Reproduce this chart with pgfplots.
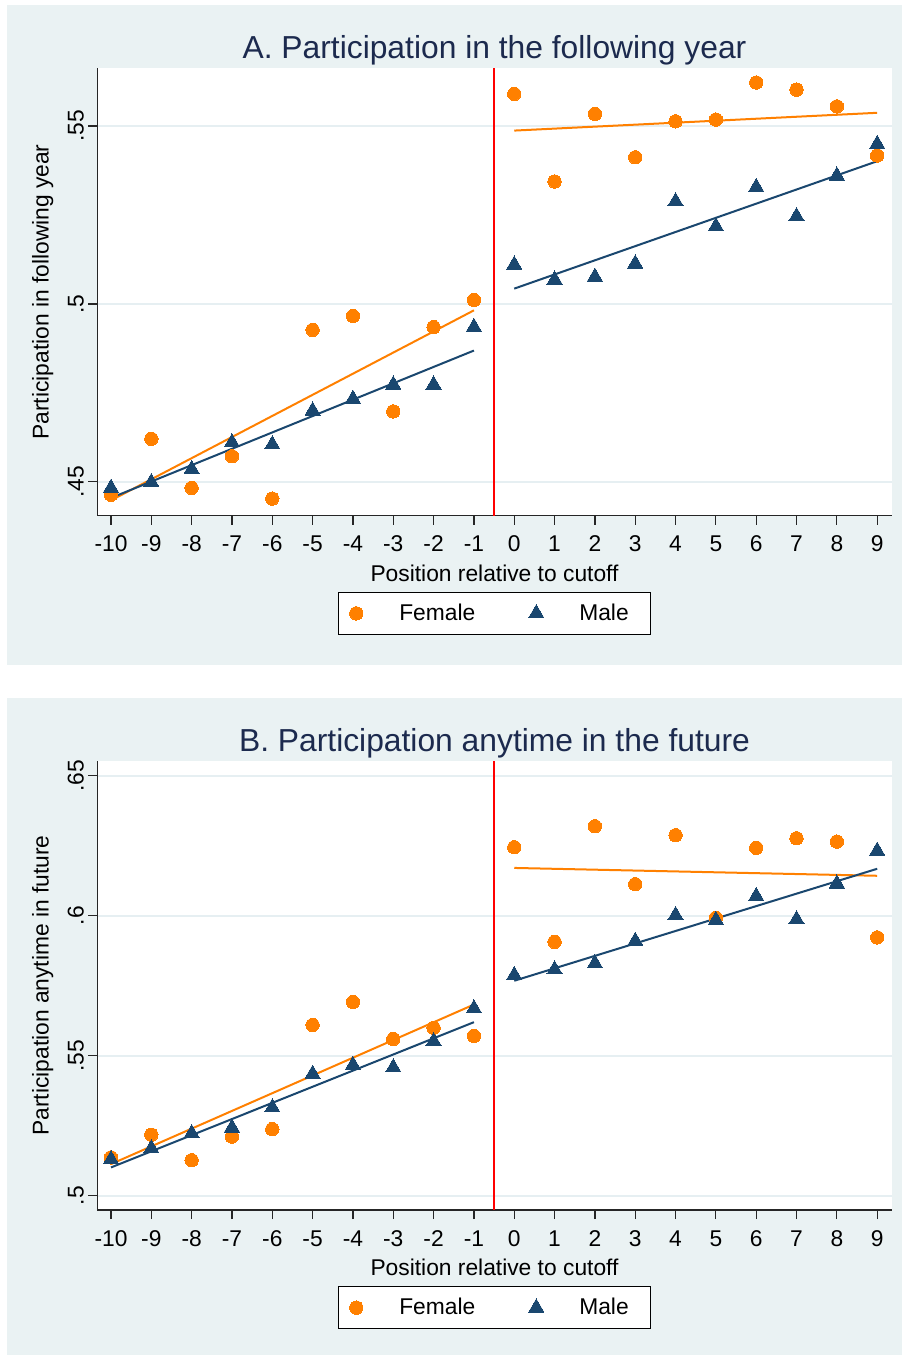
\documentclass[border=0pt]{standalone}
\usepackage{pgfplots}
\pgfplotsset{compat=1.18}
\usepackage{pgfplotstable}
\usepackage{fontspec}
\setmainfont{Liberation Sans}
\definecolor{stbg}{RGB}{234,242,243}
\definecolor{stgrid}{RGB}{230,239,242}
\definecolor{storange}{RGB}{255,128,0}
\definecolor{stnavy}{RGB}{26,71,111}
\definecolor{sttitle}{RGB}{28,42,78}

\pgfplotstableread{
x fem male
-10 0.4464 0.4483
-9 0.4621 0.4499
-8 0.4483 0.4536
-7 0.4572 0.4611
-6 0.4453 0.4605
-5 0.4927 0.4700
-4 0.4966 0.4733
-3 0.4698 0.4773
-2 0.4935 0.4773
-1 0.5011 0.4935
0 0.5590 0.5110
1 0.5344 0.5068
2 0.5534 0.5076
3 0.5412 0.5113
4 0.5513 0.5288
5 0.5518 0.5218
6 0.5622 0.5328
7 0.5602 0.5246
8 0.5555 0.5360
9 0.5417 0.5449
}\dataA

\pgfplotstableread{
x fem male
-10 0.5137 0.5130
-9 0.5218 0.5169
-8 0.5127 0.5223
-7 0.5211 0.5243
-6 0.5238 0.5315
-5 0.5610 0.5435
-4 0.5692 0.5467
-3 0.5560 0.5458
-2 0.5600 0.5552
-1 0.5571 0.5669
0 0.6245 0.5788
1 0.5907 0.5808
2 0.6320 0.5830
3 0.6113 0.5910
4 0.6288 0.6002
5 0.5993 0.5985
6 0.6243 0.6070
7 0.6277 0.5987
8 0.6265 0.6115
9 0.5923 0.6232
}\dataB

\def\lblfont{\fontsize{11.4}{13}\selectfont}

\pgfplotsset{
  stata/.style={
    scale only axis, width=397.2pt,
    xmin=-10.34, xmax=9.36,
    axis lines*=left,
    axis line style={-, line width=0.7pt, black!85},
    tick align=outside, major tick length=4.5pt,
    tick style={line width=0.6pt, black!85},
    xtick={-10,...,9},
    xticklabels={-10,-9,-8,-7,-6,-5,-4,-3,-2,-1,0,1,2,3,4,5,6,7,8,9},
    ymajorgrids, grid style={stgrid, line width=0.85pt},
    axis background/.style={fill=white},
    tick label style={font=\lblfont},
    label style={font=\lblfont},
    yticklabel style={rotate=90, anchor=south, inner ysep=2pt},
    xticklabel style={anchor=base, yshift=-13.6pt},
    title style={font=\fontsize{15.9}{18}\selectfont, color=sttitle, at={(0.5,1)}, anchor=base, yshift=-1.3pt},
    xlabel style={at={(axis description cs:0.5,0)}, anchor=base, yshift=-32.85pt},
    ylabel style={at={([xshift=-24.3pt]axis description cs:0,0.5)}, anchor=base, rotate=0},
    legend columns=2,
    legend cell align=left,
    legend style={at={(0.5,0)}, anchor=north, yshift=-38pt, draw=black, line width=0.5pt,
      fill=white, inner xsep=0pt, inner ysep=3.7pt, column sep=0pt,
      font=\lblfont, cells={anchor=west, inner sep=0pt}},
  },
  femsc/.style={only marks, mark=*, mark size=3.35pt, color=storange,
    mark options={fill=storange, draw=storange, line width=0pt},
    legend image code/.code={\path[draw=none,fill=none] (-9pt,-5pt) rectangle (19.5pt,5pt);
      \draw[##1] plot coordinates {(0pt,0pt)};}},
  malesc/.style={only marks, mark=triangle*, mark size=4.4pt, color=stnavy,
    mark options={fill=stnavy, draw=stnavy, line width=0pt},
    legend image code/.code={\path[draw=none,fill=none] (-28.5pt,-5pt) rectangle (19.5pt,5pt);
      \draw[##1] plot coordinates {(0pt,0pt)};}},
  femfit/.style={storange, line width=1pt, forget plot, no marks},
  malefit/.style={stnavy, line width=1pt, forget plot, no marks},
}

\begin{document}
\begin{tikzpicture}
\useasboundingbox (0,0) rectangle (451pt,-677.5pt);
\fill[stbg] (3.5pt,-2.5pt) rectangle (451pt,-332.35pt);
\fill[stbg] (3.5pt,-349pt) rectangle (451pt,-677.5pt);

\begin{axis}[stata, at={(48.65pt,-34.15pt)}, anchor=north west, height=223.7pt,
  ymin=0.4405, ymax=0.5662,
  ytick={0.45,0.5,0.55}, yticklabels={.45,.5,.55},
  title={A. Participation in the following year},
  xlabel={Position relative to cutoff},
  ylabel={Participation in following year}]
\addplot[femsc] table[x=x, y=fem] {\dataA};
\addlegendentry{Female}
\addplot[malesc] table[x=x, y=male] {\dataA};
\addlegendentry{Male\hspace*{9pt}}
\addplot[femfit] coordinates {(-10,0.4448) (-1,0.4982)};
\addplot[femfit] coordinates {(0,0.5487) (9,0.5537)};
\addplot[malefit] coordinates {(-10,0.4455) (-1,0.4869)};
\addplot[malefit] coordinates {(0,0.5043) (9,0.5401)};
\addplot[red, line width=1pt, forget plot] coordinates {(-0.5,0.4405) (-0.5,0.5662)};
\end{axis}

\begin{axis}[stata, at={(48.65pt,-380.5pt)}, anchor=north west, height=224.5pt,
  ymin=0.4949, ymax=0.6553,
  ytick={0.5,0.55,0.6,0.65}, yticklabels={.5,.55,.6,.65},
  title={B. Participation anytime in the future},
  xlabel={Position relative to cutoff},
  ylabel={Participation anytime in future}]
\addplot[femsc] table[x=x, y=fem] {\dataB};
\addlegendentry{Female}
\addplot[malesc] table[x=x, y=male] {\dataB};
\addlegendentry{Male\hspace*{9pt}}
\addplot[femfit] coordinates {(-10,0.5113) (-1,0.5683)};
\addplot[femfit] coordinates {(0,0.6171) (9,0.6143)};
\addplot[malefit] coordinates {(-10,0.5101) (-1,0.5620)};
\addplot[malefit] coordinates {(0,0.5768) (9,0.6168)};
\addplot[red, line width=1pt, forget plot] coordinates {(-0.5,0.4949) (-0.5,0.6553)};
\end{axis}
\end{tikzpicture}
\end{document}
